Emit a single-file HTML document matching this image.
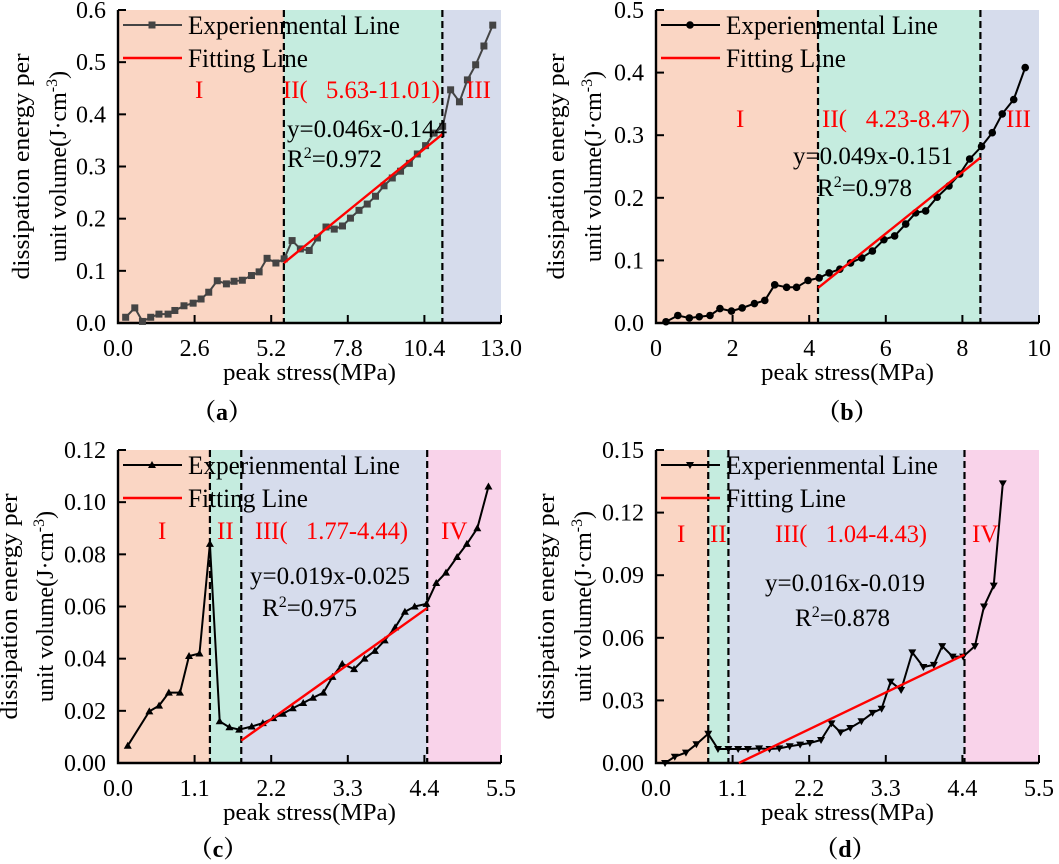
<!DOCTYPE html>
<html><head><meta charset="utf-8"><style>
html,body{margin:0;padding:0;background:#fff;}
svg{display:block;font-family:"Liberation Serif",serif;}
</style></head><body>
<svg id="fig" width="1059" height="864" viewBox="0 0 1059 864" xmlns="http://www.w3.org/2000/svg"></svg>
<script>
// ---- Panel (a) data ----
const aX = [0.26,0.57,0.83,1.11,1.39,1.70,1.93,2.24,2.55,2.82,3.08,3.37,3.68,3.94,4.22,4.53,4.79,5.06,5.36,5.64,5.91,6.19,6.49,6.77,7.06,7.34,7.62,7.89,8.18,8.46,8.74,9.03,9.31,9.59,9.89,10.16,10.44,10.73,11.02,11.29,11.59,11.86,12.14,12.42,12.72];
const aY = [0.011,0.029,0.003,0.011,0.017,0.017,0.024,0.033,0.038,0.046,0.059,0.081,0.075,0.080,0.082,0.091,0.098,0.124,0.115,0.123,0.158,0.142,0.139,0.163,0.184,0.180,0.186,0.201,0.216,0.228,0.243,0.263,0.278,0.291,0.306,0.324,0.340,0.364,0.377,0.447,0.424,0.466,0.495,0.531,0.571];
const aFitX = [5.63,11.01];
const aFitY = [0.115,0.362];
const aBounds = [0,5.63,11.01,13];
const aXTicks = ["0.0","2.6","5.2","7.8","10.4","13.0"];
const aYTicks = ["0.0","0.1","0.2","0.3","0.4","0.5","0.6"];
// ---- Panel (b) data ----
const bX = [0.26,0.57,0.87,1.13,1.41,1.67,1.97,2.25,2.57,2.84,3.10,3.41,3.67,3.97,4.26,4.52,4.80,5.08,5.37,5.65,5.95,6.23,6.52,6.78,7.04,7.34,7.65,7.93,8.19,8.50,8.78,9.04,9.34,9.64];
const bY = [0.002,0.012,0.008,0.010,0.012,0.023,0.019,0.024,0.031,0.036,0.061,0.057,0.057,0.068,0.072,0.080,0.086,0.096,0.104,0.115,0.133,0.139,0.158,0.176,0.179,0.201,0.219,0.238,0.262,0.282,0.304,0.334,0.357,0.408];
const bFitX = [4.23,8.47];
const bFitY = [0.056,0.264];
const bBounds = [0,4.23,8.47,10];
const bXTicks = ["0","2","4","6","8","10"];
const bYTicks = ["0.0","0.1","0.2","0.3","0.4","0.5"];
// ---- Panel (c) data ----
const cX = [0.14,0.45,0.59,0.73,0.89,1.02,1.17,1.32,1.46,1.60,1.74,1.92,2.08,2.23,2.37,2.51,2.66,2.80,2.95,3.08,3.22,3.39,3.54,3.69,3.83,3.98,4.12,4.26,4.43,4.57,4.71,4.87,5.01,5.16,5.32];
const cY = [0.0066,0.0198,0.022,0.027,0.027,0.041,0.042,0.084,0.016,0.0137,0.0128,0.014,0.0153,0.0172,0.0189,0.021,0.023,0.025,0.027,0.033,0.038,0.036,0.040,0.043,0.047,0.052,0.058,0.060,0.061,0.069,0.073,0.079,0.084,0.090,0.106];
const cFitX = [1.77,4.44];
const cFitY = [0.0086,0.0594];
const cBounds = [0,1.32,1.77,4.44,5.5];
const cXTicks = ["0.0","1.1","2.2","3.3","4.4","5.5"];
const cYTicks = ["0.00","0.02","0.04","0.06","0.08","0.10","0.12"];
// ---- Panel (d) data ----
const dX = [0.13,0.27,0.43,0.58,0.75,0.89,1.04,1.18,1.32,1.48,1.63,1.77,1.92,2.07,2.21,2.37,2.52,2.65,2.79,2.95,3.11,3.24,3.37,3.52,3.68,3.84,3.99,4.11,4.26,4.41,4.58,4.71,4.85,4.98];
const dY = [0.0,0.003,0.005,0.009,0.014,0.0067,0.0067,0.0067,0.0067,0.007,0.0067,0.007,0.008,0.0088,0.0096,0.011,0.019,0.0147,0.0168,0.020,0.024,0.026,0.039,0.035,0.053,0.046,0.047,0.056,0.051,0.051,0.056,0.075,0.085,0.134];
const dFitX = [1.19,4.43];
const dFitY = [0.0,0.0519];
const dBounds = [0,0.75,1.04,4.43,5.5];
const dXTicks = ["0.0","1.1","2.2","3.3","4.4","5.5"];
const dYTicks = ["0.00","0.03","0.06","0.09","0.12","0.15"];

const NS = "http://www.w3.org/2000/svg";
const svg = document.getElementById("fig");
function mk(tag, attrs, parent){
  const e = document.createElementNS(NS, tag);
  for (const k in attrs) e.setAttribute(k, attrs[k]);
  (parent||svg).appendChild(e);
  return e;
}
const C_OR="#fad6c4", C_GR="#c5ecdf", C_BL="#d6dcec", C_PK="#f9d3ea";

function panel(o){
  const g = mk("g", {});
  
  
  const L=o.left, R=o.right, T=o.top, B=o.bottom;
  const sx = v => L + (v - o.xmin)/(o.xmax - o.xmin)*(R-L);
  const sy = v => B - (v - o.ymin)/(o.ymax - o.ymin)*(B-T);
  for (let i=0;i<o.bounds.length-1;i++){
    const r = mk("rect",{x:sx(o.bounds[i]),y:T,width:sx(o.bounds[i+1])-sx(o.bounds[i]),height:B-T,fill:o.colors[i]},g);
    
    
  }
  for (let i=1;i<o.bounds.length-1;i++){
    const l = mk("line",{x1:sx(o.bounds[i]),x2:sx(o.bounds[i]),y1:T,y2:B,stroke:"#000","stroke-width":2.2,"stroke-dasharray":"7,4"},g);
    
    
  }
  const ax = mk("path",{d:`M${L},${T} L${L},${B} L${R},${B}`,fill:"none",stroke:"#000","stroke-width":2.4},g);
  
  
  o.xTicks.forEach(t=>{
    const x = sx(parseFloat(t));
    const tk = mk("line",{x1:x,x2:x,y1:B,y2:B-8,stroke:"#000","stroke-width":2},g);
    
    
    const tx = mk("text",{x:x,y:B+33,"font-size":24,"text-anchor":"middle",fill:"#000"},g);
    tx.textContent = t;
    
    
  });
  o.yTicks.forEach(t=>{
    const y = sy(parseFloat(t));
    const tk = mk("line",{x1:L,x2:L+8,y1:y,y2:y,stroke:"#000","stroke-width":2},g);
    
    
    const tx = mk("text",{x:L-12,y:y+8,"font-size":24,"text-anchor":"end",fill:"#000"},g);
    tx.textContent = t;
    
    
  });
  const pts = o.xs.map((v,i)=>sx(v).toFixed(1)+","+sy(o.ys[i]).toFixed(1)).join(" ");
  const pl = mk("polyline",{points:pts,fill:"none",stroke:o.lineColor,"stroke-width":2},g);
  
  
  const marker = (x,y,parent)=>{
    let m;
    if (o.marker==="square") m = mk("rect",{x:x-3.5,y:y-3.5,width:7,height:7,fill:o.lineColor},parent);
    else if (o.marker==="circle") m = mk("circle",{cx:x,cy:y,r:3.8,fill:o.lineColor},parent);
    else if (o.marker==="up") m = mk("path",{d:`M${x},${y-4} L${x+4},${y+3} L${x-4},${y+3}Z`,fill:o.lineColor},parent);
    else m = mk("path",{d:`M${x},${y+4} L${x+4},${y-3} L${x-4},${y-3}Z`,fill:o.lineColor},parent);
    return m;
  };
  o.xs.forEach((v,i)=>{
    const m = marker(sx(v), sy(o.ys[i]), g);
    
    
  });
  const fl = mk("line",{x1:sx(o.fitX[0]),y1:sy(o.fitY[0]),x2:sx(o.fitX[1]),y2:sy(o.fitY[1]),stroke:"#ff0000","stroke-width":2.4},g);
  
  
  const ly1 = T+15, ly2 = T+48;
  const lg1 = mk("line",{x1:L+5,x2:L+64,y1:ly1,y2:ly1,stroke:o.lineColor,"stroke-width":2},g);
  
  
  const lm = marker(L+34, ly1, g);
  
  
  const lt1 = mk("text",{x:L+70,y:ly1+9,"font-size":26,textLength:212,lengthAdjust:"spacingAndGlyphs",fill:"#000"},g);
  lt1.textContent = "Experienmental Line";
  
  
  const lg2 = mk("line",{x1:L+5,x2:L+64,y1:ly2,y2:ly2,stroke:"#ff0000","stroke-width":2.4},g);
  
  
  const lt2 = mk("text",{x:L+70,y:ly2+9,"font-size":26,textLength:120,lengthAdjust:"spacingAndGlyphs",fill:"#000"},g);
  lt2.textContent = "Fitting Line";
  
  
  o.stages.forEach(s=>{
    const t = mk("text",{x:s[1],y:s[2],"font-size":25,fill:"#ff0000"},g);
    t.textContent = s[0];
    if (s[3]) { t.setAttribute("textLength", s[3]); t.setAttribute("lengthAdjust","spacingAndGlyphs"); }
    
    
  });
  const eq = mk("text",{x:o.eq[0],y:o.eq[1],"font-size":25,textLength:o.eq[3],lengthAdjust:"spacingAndGlyphs",fill:"#000"},g);
  eq.textContent = o.eq[2];
  
  
  const r2 = mk("text",{x:o.r2[0],y:o.r2[1],"font-size":25,fill:"#000"},g);
  r2.innerHTML = 'R<tspan dy="-9" font-size="16">2</tspan><tspan dy="9">=' + o.r2[2] + '</tspan>';
  
  
  const xt = mk("text",{x:(L+R)/2,y:B+57,"font-size":24,"text-anchor":"middle",textLength:173,lengthAdjust:"spacingAndGlyphs",fill:"#000"},g);
  xt.textContent = "peak stress(MPa)";
  
  
  const cy = (T+B)/2;
  const yt1 = mk("text",{x:0,y:0,"font-size":24,"text-anchor":"middle",textLength:226,lengthAdjust:"spacingAndGlyphs",fill:"#000",transform:`translate(${o.yt[0]},${cy}) rotate(-90)`},g);
  yt1.textContent = "dissipation energy per";
  
  
  const yt2 = mk("text",{x:0,y:0,"font-size":24,"text-anchor":"middle",fill:"#000",transform:`translate(${o.yt[1]},${cy}) rotate(-90)`},g);
  yt2.innerHTML = 'unit volume(J·cm<tspan dy="-9" font-size="16">-3</tspan><tspan dy="9">)</tspan>';
  
  
  const cp = mk("text",{x:o.cap[0],y:o.cap[1],"font-size":24,"font-weight":"bold","text-anchor":"middle",fill:"#000",style:'font-family:"Liberation Serif","Noto Serif CJK SC",serif'},g);
  cp.textContent = o.cap[2];
  
  
}

panel({id:"a",left:118,right:501,top:10,bottom:323,xmin:0,xmax:13,ymin:0,ymax:0.6,
  xs:aX,ys:aY,fitX:aFitX,fitY:aFitY,bounds:aBounds,colors:[C_OR,C_GR,C_BL],
  xTicks:aXTicks,yTicks:aYTicks,lineColor:"#444",marker:"square",
  stages:[["I",195,98],["II(\u00a0\u00a0\u00a05.63-11.01)",283,98,157],["III",466,98]],
  eq:[287,137,"y=0.046x-0.144",160],r2:[287,167,"0.972"],yt:[29,66],cap:[222,420,"（a）"]});
panel({id:"b",left:656,right:1039,top:10,bottom:323,xmin:0,xmax:10,ymin:0,ymax:0.5,
  xs:bX,ys:bY,fitX:bFitX,fitY:bFitY,bounds:bBounds,colors:[C_OR,C_GR,C_BL],
  xTicks:bXTicks,yTicks:bYTicks,lineColor:"#000",marker:"circle",
  stages:[["I",736,127],["II(\u00a0\u00a0\u00a04.23-8.47)",822,127,148],["III",1006,127]],
  eq:[793,164,"y=0.049x-0.151",160],r2:[817,196,"0.978"],yt:[564,601],cap:[847,420,"（b）"]});
panel({id:"c",left:118,right:501,top:450,bottom:763,xmin:0,xmax:5.5,ymin:0,ymax:0.12,
  xs:cX,ys:cY,fitX:cFitX,fitY:cFitY,bounds:cBounds,colors:[C_OR,C_GR,C_BL,C_PK],
  xTicks:cXTicks,yTicks:cYTicks,lineColor:"#000",marker:"up",
  stages:[["I",158,539],["II",217,539],["III(\u00a0\u00a0\u00a01.77-4.44)",255,539,153],["IV",441,539]],
  eq:[250,584,"y=0.019x-0.025",160],r2:[262,616,"0.975"],yt:[17,53],cap:[218,857,"（c）"]});
panel({id:"d",left:656,right:1039,top:450,bottom:763,xmin:0,xmax:5.5,ymin:0,ymax:0.15,
  xs:dX,ys:dY,fitX:dFitX,fitY:dFitY,bounds:dBounds,colors:[C_OR,C_GR,C_BL,C_PK],
  xTicks:dXTicks,yTicks:dYTicks,lineColor:"#000",marker:"down",
  stages:[["I",677,542],["II",710,542],["III(\u00a0\u00a0\u00a01.04-4.43)",775,542,152],["IV",972,542]],
  eq:[765,591,"y=0.016x-0.019",160],r2:[795,626,"0.878"],yt:[554,591],cap:[845,857,"（d）"]});
</script>
</body></html>
